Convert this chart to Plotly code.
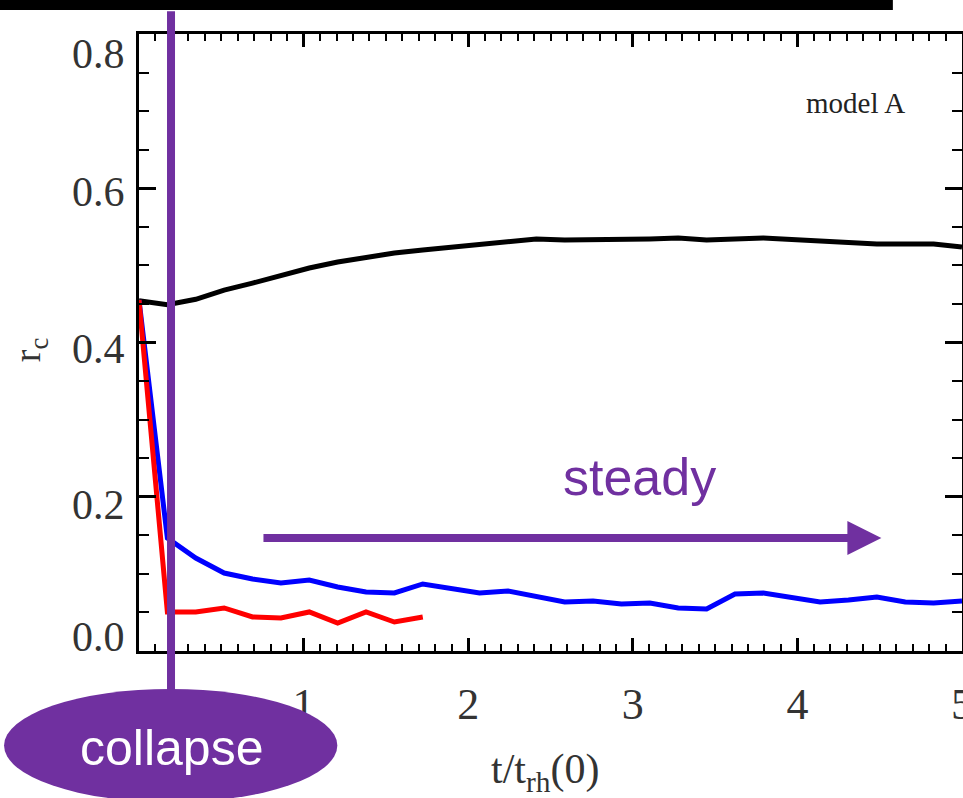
import plotly.graph_objects as go

# time samples (t / t_rh(0)), 30 snapshots over 0..5
t = [i * 5 / 29 for i in range(30)]

black_rc = [0.454, 0.449, 0.456, 0.468, 0.477, 0.4875, 0.4966, 0.5044, 0.5109, 0.516,
            0.5198, 0.5237, 0.5263, 0.5302, 0.5342, 0.533, 0.533, 0.533, 0.5342, 0.5354,
            0.533, 0.5342, 0.5354, 0.5335, 0.5315, 0.531, 0.5277, 0.5277, 0.5277, 0.5238]

blue_rc = [0.455, 0.1465, 0.1206, 0.1011, 0.0934, 0.0882, 0.0921, 0.0830, 0.0765, 0.0752,
           0.0869, 0.0817, 0.0752, 0.0778, 0.0713, 0.0635, 0.0648, 0.0609, 0.0622, 0.0558,
           0.0545, 0.0739, 0.0752, 0.0687, 0.0635, 0.0661, 0.0700, 0.0635, 0.0622, 0.0648]

red_rc = [0.455, 0.0506, 0.0506, 0.0558, 0.0441, 0.0428, 0.0506, 0.0363, 0.0506, 0.0376, 0.0441]

x_ticks = [1, 2, 3, 4, 5]
y_ticks = [0.0, 0.2, 0.4, 0.6, 0.8]
y_label_shift = [14, -8, -6, -4, -20]   # IDL-style label offsets (px)

PURPLE = "#7030A0"
SERIF = "Liberation Serif, Times New Roman, serif"
SANS = "Liberation Sans, Arial, sans-serif"

fig = go.Figure()
fig.add_trace(go.Scatter(x=t, y=black_rc, mode="lines", line=dict(color="black", width=5)))
fig.add_trace(go.Scatter(x=t, y=blue_rc, mode="lines", line=dict(color="#0000FF", width=5)))
fig.add_trace(go.Scatter(x=t[:len(red_rc)], y=red_rc, mode="lines", line=dict(color="#FF0000", width=5)))

fig.update_layout(
    width=963, height=798,
    margin=dict(l=139, r=1, t=34, b=147, autoexpand=False),
    paper_bgcolor="white", plot_bgcolor="white",
    showlegend=False,
    xaxis=dict(range=[0, 5], tickvals=x_ticks, ticktext=[str(v) for v in x_ticks],
               showgrid=False, zeroline=False, showline=True, linecolor="black", linewidth=3,
               mirror="ticks", ticks="inside", ticklen=13, tickwidth=2.5, tickcolor="black",
               minor=dict(dtick=0.1, ticks="inside", ticklen=7, tickwidth=2, tickcolor="black"),
               tickfont=dict(family=SERIF, size=44, color="#333333"), ticklabelstandoff=12,
               ticklabeloverflow="allow", automargin=False),
    yaxis=dict(range=[0, 0.8], tickvals=y_ticks, showticklabels=False,
               showgrid=False, zeroline=False, showline=True, linecolor="black", linewidth=3,
               mirror="ticks", ticks="inside", ticklen=17, tickwidth=2.5, tickcolor="black",
               minor=dict(dtick=0.05, ticks="inside", ticklen=10, tickwidth=2, tickcolor="black"),
               automargin=False),
)

# top black bar
fig.add_shape(type="rect", xref="paper", yref="paper", x0=-0.17, x1=0.916, y0=1.039, y1=1.07,
              fillcolor="black", line=dict(width=0), layer="above")
# collapse vertical line
fig.add_shape(type="line", xref="paper", yref="paper", x0=0.0389, x1=0.0389, y0=-0.07, y1=1.037,
              line=dict(color=PURPLE, width=8), layer="above")
# collapse ellipse
fig.add_shape(type="circle", xref="paper", yref="paper", x0=-0.164, x1=0.241, y0=-0.245, y1=-0.0616,
              fillcolor=PURPLE, line=dict(width=0), layer="above")

annotations = [
    dict(x=0.0389, y=-0.157, xref="paper", yref="paper", text="collapse", showarrow=False,
         xanchor="center", yanchor="middle",
         font=dict(family=SANS, size=50, color="white")),
    dict(x=3.04, y=0.2256, xref="x", yref="y", text="steady", showarrow=False,
         xanchor="center", yanchor="middle",
         font=dict(family=SANS, size=52, color=PURPLE)),
    dict(x=4.51, y=0.1465, ax=0.747, ay=0.1465, xref="x", yref="y", axref="x", ayref="y",
         text="", showarrow=True, arrowhead=2, arrowsize=0.85, arrowwidth=8, arrowcolor=PURPLE,
         standoff=0, startstandoff=0),
    dict(x=4.35, y=0.7105, xref="x", yref="y", text="model A", showarrow=False,
         xanchor="center", yanchor="middle",
         font=dict(family=SERIF, size=29, color="#222222")),
    dict(x=-0.132, y=0.488, xref="paper", yref="paper", text="r<sub>c</sub>", showarrow=False,
         xanchor="center", yanchor="middle",
         textangle=-90, font=dict(family=SERIF, size=38, color="#333333")),
    dict(x=0.493, y=-0.196, xref="paper", yref="paper", text="t/t<sub>rh</sub>(0)", showarrow=False,
         xanchor="center", yanchor="middle",
         font=dict(family=SERIF, size=42, color="#333333")),
]
for v, s in zip(y_ticks, y_label_shift):
    annotations.append(dict(x=0, y=v, xref="paper", yref="y", text="%.1f" % v, showarrow=False,
                            xanchor="right", yanchor="middle", xshift=-12, yshift=s,
                            font=dict(family=SERIF, size=42, color="#333333")))
fig.update_layout(annotations=annotations)

fig.write_html("out.html")
